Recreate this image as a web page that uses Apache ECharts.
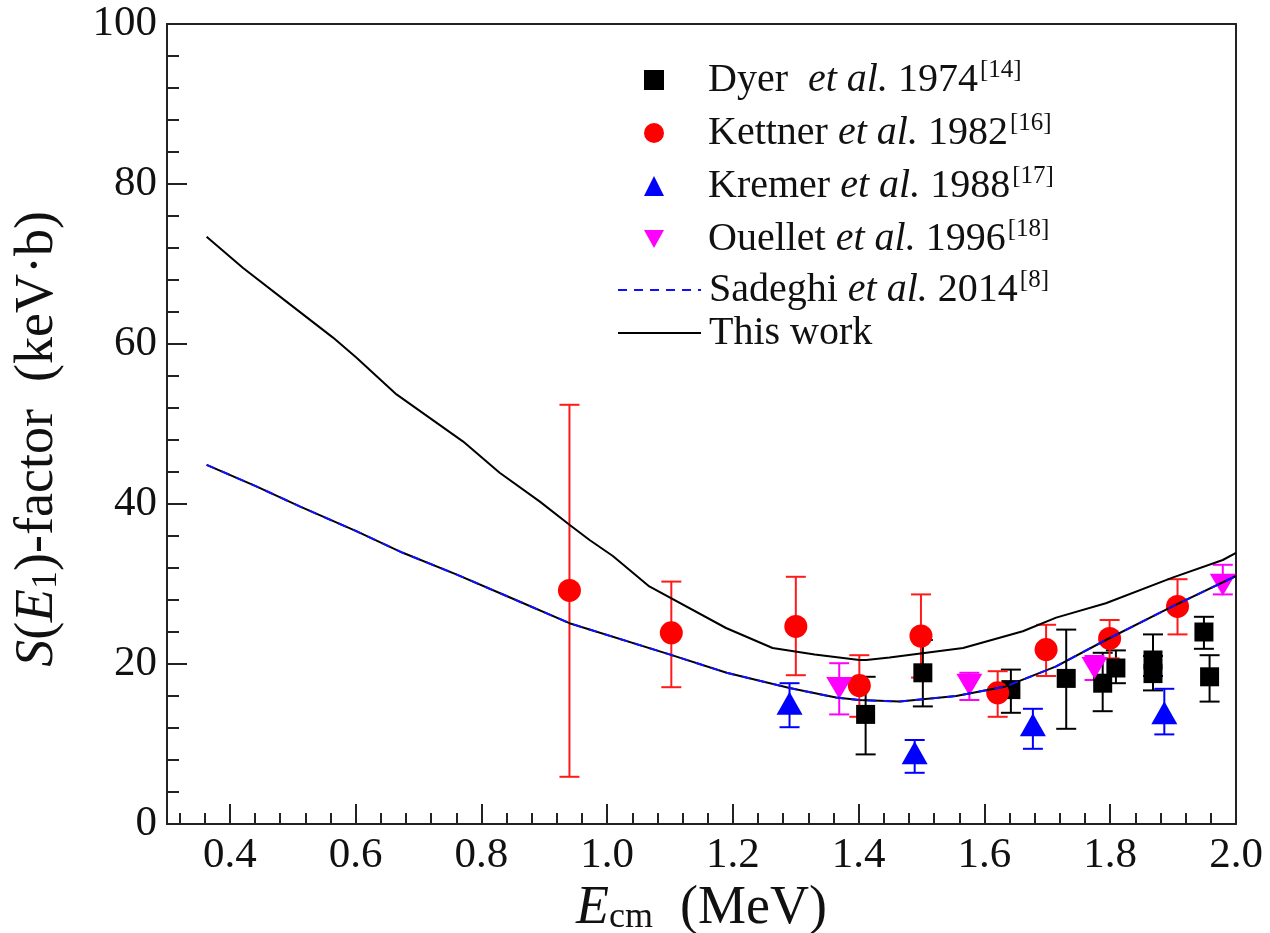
<!DOCTYPE html>
<html lang="en">
<head>
    <meta charset="UTF-8">
    <title>S-factor</title>
    <script src="https://cdn.jsdelivr.net/npm/echarts@6/dist/echarts.min.js"></script>
    <style>
        html, body {margin: 0; padding: 0; background: #fff;}
        #chart {width: 1270px; height: 933px;}
    </style>
</head>
<body>
<div id="chart"></div>
<script>
    // tick labels
    const xTicks = [0.4, 0.6, 0.8, 1.0, 1.2, 1.4, 1.6, 1.8, 2.0];
    const yTicks = [0, 20, 40, 60, 80, 100];

    // experimental points: [E, S, S low, S high]
    const dyer = [
        [1.411, 13.7, 8.7, 18.4],
        [1.502, 18.9, 14.7, 23.0],
        [1.642, 16.8, 13.9, 19.3],
        [1.730, 18.2, 11.9, 24.3],
        [1.788, 17.6, 14.1, 21.4],
        [1.809, 19.5, 17.6, 21.7],
        [1.868, 20.5, 18.5, 23.7],
        [1.868, 18.8, 16.7, 21.0],
        [1.949, 24.0, 21.9, 25.9],
        [1.958, 18.4, 15.3, 21.1]
    ];
    const kettner = [
        [0.940, 29.2, 5.9, 52.4],
        [1.102, 23.9, 17.1, 30.3],
        [1.300, 24.7, 18.6, 30.9],
        [1.401, 17.3, 13.4, 21.1],
        [1.499, 23.5, 18.3, 28.7],
        [1.621, 16.4, 13.4, 19.1],
        [1.698, 21.8, 18.5, 24.9],
        [1.799, 23.2, 20.7, 25.5],
        [1.907, 27.2, 23.7, 30.6]
    ];
    const kremer = [
        [1.290, 15.1, 12.1, 17.6],
        [1.489, 8.9, 6.4, 10.5],
        [1.677, 12.4, 9.4, 14.4],
        [1.886, 13.9, 11.2, 16.9]
    ];
    const ouellet = [
        [1.369, 17.0, 13.7, 20.1],
        [1.576, 17.4, 15.5, 18.9],
        [1.775, 19.5, 18.0, 21.0],
        [1.979, 29.9, 28.7, 32.4]
    ];

    // curves: [E, S]
    const thisWorkUpper = [
        [0.363, 73.4], [0.421, 69.5], [0.490, 65.3], [0.564, 60.8], [0.601, 58.3],
        [0.665, 53.7], [0.771, 47.8], [0.829, 43.9], [0.893, 40.3], [0.940, 37.4],
        [0.972, 35.5], [1.009, 33.5], [1.067, 29.7], [1.189, 24.5], [1.263, 22.0],
        [1.330, 21.2], [1.401, 20.5], [1.412, 20.5], [1.449, 20.8], [1.566, 22.0],
        [1.661, 24.1], [1.714, 25.8], [1.793, 27.6], [1.899, 30.8], [1.979, 33.0],
        [2.000, 33.9]
    ];
    const thisWorkLower = [
        [0.363, 44.9], [0.442, 42.2], [0.511, 39.7], [0.601, 36.6], [0.675, 33.9],
        [0.760, 31.2], [0.840, 28.5], [0.940, 25.1], [1.099, 21.2], [1.190, 18.9],
        [1.290, 17.0], [1.364, 15.8], [1.401, 15.5], [1.465, 15.3], [1.555, 16.0],
        [1.634, 17.2], [1.714, 19.7], [1.793, 23.0], [1.899, 27.2], [2.000, 31.0]
    ];
    const sadeghi = thisWorkLower;

    const legendText = {
        'Dyer': 'Dyer  {i|et al.} 1974{sup|[14]}',
        'Kettner': 'Kettner {i|et al.} 1982{sup|[16]}',
        'Kremer': 'Kremer {i|et al.} 1988{sup|[17]}',
        'Ouellet': 'Ouellet {i|et al.} 1996{sup|[18]}',
        'Sadeghi': 'Sadeghi {i|et al.} 2014{sup|[8]}',
        'This work': 'This work'
    };

    const FONT = '"Liberation Serif", "DejaVu Serif", serif';
    const AXIS_COLOR = '#222';
    const LEG_SIZE = 40;

    let minorX = [];
    for (let i = 8; i <= 50; i++) {
        let v = +(i * 0.04).toFixed(2);
        if (v > 0.3 && v < 2.0) minorX.push(v);
    }

    function errorBars(name, rows, color) {
        return {
            name: name + ' err',
            type: 'custom',
            data: rows,
            z: 2,
            encode: {x: 0, y: [2, 3]},
            renderItem: function (params, api) {
                let x = api.value(0);
                let lo = api.coord([x, api.value(2)]);
                let hi = api.coord([x, api.value(3)]);
                let cw = 10;
                let st = {stroke: color, lineWidth: 2};
                return {
                    type: 'group',
                    children: [
                        {type: 'line', shape: {x1: lo[0], y1: lo[1], x2: hi[0], y2: hi[1]}, style: st},
                        {type: 'line', shape: {x1: lo[0] - cw, y1: lo[1], x2: lo[0] + cw, y2: lo[1]}, style: st},
                        {type: 'line', shape: {x1: hi[0] - cw, y1: hi[1], x2: hi[0] + cw, y2: hi[1]}, style: st}
                    ]
                };
            }
        };
    }

    function points(name, rows, symbol, size, color) {
        return {
            name: name,
            type: 'scatter',
            data: rows.map(function (r) { return [r[0], r[1]]; }),
            symbol: symbol,
            symbolSize: size,
            itemStyle: {color: color, opacity: 1},
            z: 3
        };
    }

    const richStyles = {
        i: {fontFamily: FONT, fontStyle: 'italic', fontSize: LEG_SIZE, lineHeight: 44, color: '#111'},
        sup: {fontFamily: FONT, fontSize: 25, lineHeight: 44, verticalAlign: 'top', color: '#111', padding: [0, 0, 16, 2]}
    };

    function legendBlock(names, left, top, width, pad, extra) {
        let l = {
            data: names,
            orient: 'vertical',
            left: left,
            top: top,
            itemWidth: width,
            itemHeight: 20,
            itemGap: 9,
            selectedMode: false,
            formatter: function (name) { return legendText[name]; },
            textStyle: {fontFamily: FONT, fontSize: LEG_SIZE, lineHeight: 44, color: '#111', padding: [0, 0, 0, pad], rich: richStyles}
        };
        return Object.assign(l, extra || {});
    }

    const titleRich = {
        i: {fontFamily: FONT, fontStyle: 'italic', fontSize: 54, color: '#111'},
        sub: {fontFamily: FONT, fontSize: 36, color: '#111', verticalAlign: 'bottom', padding: [16, 0, 0, 0]}
    };

    let chart = echarts.init(document.getElementById('chart'));
    let option = {
        animation: false,
        backgroundColor: '#fff',
        grid: {left: 167, right: 34, top: 24, bottom: 109, outerBoundsMode: 'none', containLabel: false},
        legend: [
            legendBlock(['Dyer', 'Kettner', 'Kremer', 'Ouellet'], 639, 53, 20, 39),
            legendBlock(['Sadeghi'], 612, 263, 83, 3, {itemStyle: {opacity: 0}}),
            legendBlock(['This work'], 612, 306, 83, 3, {itemStyle: {opacity: 0}})
        ],
        xAxis: [{
            type: 'value',
            min: 0.3,
            max: 2.0,
            position: 'bottom',
            name: '{i|E}{sub|cm}  (MeV)',
            nameLocation: 'middle',
            nameGap: 42,
            nameTextStyle: {fontFamily: FONT, fontSize: 54, color: '#111', rich: titleRich},
            axisLine: {show: true, onZero: false, lineStyle: {color: AXIS_COLOR, width: 2}},
            axisTick: {show: true, inside: true, length: 20, customValues: xTicks, lineStyle: {color: AXIS_COLOR, width: 2}},
            axisLabel: {
                customValues: xTicks, margin: 10, fontFamily: FONT, fontSize: 43, color: '#111',
                formatter: function (v) { return v.toFixed(1); }
            },
            splitLine: {show: false}
        }, {
            type: 'value',
            min: 0.3,
            max: 2.0,
            position: 'bottom',
            axisLine: {show: false},
            axisTick: {show: true, inside: true, length: 11, customValues: minorX, lineStyle: {color: AXIS_COLOR, width: 2}},
            axisLabel: {show: false, customValues: minorX},
            splitLine: {show: false}
        }, {
            type: 'value',
            min: 0.3,
            max: 2.0,
            position: 'top',
            axisLine: {show: true, onZero: false, lineStyle: {color: AXIS_COLOR, width: 2}},
            axisTick: {show: false},
            axisLabel: {show: false},
            splitLine: {show: false}
        }],
        yAxis: [{
            type: 'value',
            min: 0,
            max: 100,
            interval: 20,
            position: 'left',
            name: '{i|S}({i|E}{sub|1})-factor  (keV·b)',
            nameLocation: 'middle',
            nameRotate: 90,
            nameGap: 102,
            nameTextStyle: {fontFamily: FONT, fontSize: 54, color: '#111', rich: titleRich, padding: [0, 30, 0, 0]},
            axisLine: {show: true, onZero: false, lineStyle: {color: AXIS_COLOR, width: 2}},
            axisTick: {show: true, inside: true, length: 20, lineStyle: {color: AXIS_COLOR, width: 2}},
            axisLabel: {
                margin: 10, fontFamily: FONT, fontSize: 43, color: '#111',
                formatter: function (v) { return yTicks.indexOf(v) >= 0 ? String(v) : ''; }
            },
            splitLine: {show: false}
        }, {
            type: 'value',
            min: 0,
            max: 100,
            interval: 4,
            position: 'left',
            axisLine: {show: false},
            axisTick: {show: true, inside: true, length: 12, lineStyle: {color: AXIS_COLOR, width: 2}},
            axisLabel: {show: false},
            splitLine: {show: false}
        }, {
            type: 'value',
            min: 0,
            max: 100,
            position: 'right',
            axisLine: {show: true, onZero: false, lineStyle: {color: AXIS_COLOR, width: 2}},
            axisTick: {show: false},
            axisLabel: {show: false},
            splitLine: {show: false}
        }],
        series: [
            errorBars('Dyer', dyer, '#000'),
            errorBars('Kettner', kettner, '#ff1a1a'),
            errorBars('Kremer', kremer, '#0000ff'),
            errorBars('Ouellet', ouellet, '#ff00ff'),
            points('Dyer', dyer, 'rect', 19, '#000'),
            points('Kettner', kettner, 'circle', 23, '#ff0000'),
            points('Kremer', kremer, 'triangle', [26, 23], '#0000ff'),
            points('Ouellet', ouellet, 'path://M0,0 L2,0 L1,1.8 Z', [26, 22], '#ff00ff'),
            {
                name: 'This work',
                type: 'line',
                data: thisWorkUpper,
                showSymbol: false,
                symbol: 'none',
                lineStyle: {color: '#000', width: 2},
                itemStyle: {color: '#000'},
                z: 4
            },
            {
                name: 'This work',
                type: 'line',
                data: thisWorkLower,
                showSymbol: false,
                symbol: 'none',
                lineStyle: {color: '#000', width: 2},
                itemStyle: {color: '#000'},
                z: 4
            },
            {
                name: 'Sadeghi',
                type: 'line',
                data: sadeghi,
                showSymbol: false,
                symbol: 'none',
                lineStyle: {color: '#1010ff', width: 2, type: [9, 7]},
                itemStyle: {color: '#1010ff'},
                z: 5
            }
        ]
    };
    chart.setOption(option);
</script>
</body>
</html>
